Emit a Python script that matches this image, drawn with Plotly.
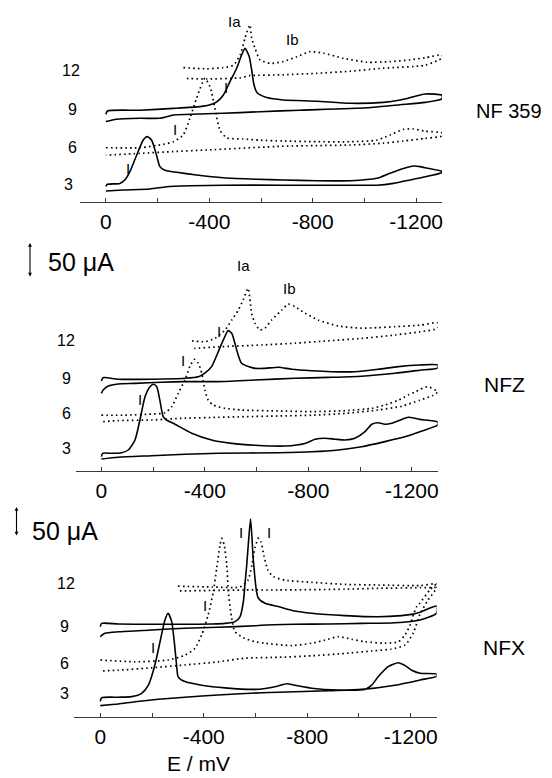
import plotly.graph_objects as go

W, H = 552, 778
FONT = "Liberation Sans, Arial, sans-serif"

# ---------------- data: potential E (mV) and offset current I (uA), loop = forward scan then reverse scan
NF359_PH3_E = [0, -6, -54, -74, -93, -119, -144, -160, -177, -196, -209, -228, -274, -351, -454, -583, -686, -816, -945, -1048, -1099, -1151, -1190, -1215, -1235, -1300,
               -1300, -1235, -1177, -1112, -1048, -945, -686, -454, -325, -235, -170, -67, 0]
NF359_PH3_I = [26, 29.5, 31, 37, 50.5, 78, 103, 109, 103, 78, 59, 53, 49.5, 45, 40.5, 38, 36.7, 35.5, 35.5, 39.5, 48, 56, 60, 59, 57, 51,
               49, 42, 36.7, 31, 28, 28, 28, 28, 27, 25.5, 21.7, 20, 18.3]
NF359_PH6_E = [0, -132, -222, -261, -299, -325, -351, -383, -403, -422, -441, -467, -531, -596, -686, -816, -945, -1048, -1099, -1151, -1190, -1235, -1300,
               -1300, -1235, -1151, -1073, -945, -816, -686, -390, -261, -132, 0]
NF359_PH6_I = [90.5, 90.5, 96, 100.5, 111.7, 139.5, 173, 206, 192, 156, 120, 107, 105, 103, 101.7, 100.5, 100.5, 103, 111.7, 121, 121.7, 118, 115,
               110, 106, 101.7, 98, 95, 94, 93, 86.7, 84, 81, 78]
NF359_PH9_E = [0, -6, -132, -261, -364, -403, -429, -454, -480, -506, -525, -538, -554, -565, -573, -585, -622, -686, -816, -945, -1073, -1138, -1190, -1235, -1300,
               -1300, -1235, -1138, -1009, -751, -596, -519, -390, -261, -235, -209, -132, -41, 0]
NF359_PH9_I = [146, 151.7, 153, 156, 159, 162, 167, 178, 200.5, 223, 245, 256, 243, 217, 195, 182, 174, 170, 168, 164.5, 166, 170, 175.5, 180, 178,
               172, 166, 162, 157, 153, 150.5, 149, 147, 145, 142, 139.5, 139.5, 138, 134]
NF359_PH12_E = [-300, -390, -454, -493, -519, -538, -557, -564, -577, -596, -635, -686, -738, -790, -841, -919, -1009, -1099, -1177, -1235, -1300,
                -1300, -1235, -1073, -945, -816, -686, -557, -519, -390, -300]
NF359_PH12_I = [224, 222, 224, 228, 245, 273, 295, 273, 256, 237, 231, 234, 242, 250.5, 248, 239.5, 233, 234, 237, 240.5, 245,
                240, 228, 223, 218, 214.5, 212, 210.5, 207, 205, 206]

NFZ_PH3_E = [0, -5, -40, -78, -104, -130, -149, -169, -188, -201, -214, -226, -239, -252, -284, -349, -426, -504, -594, -710, -787, -826, -864, -903, -942, -980,
             -1019, -1045, -1070, -1096, -1122, -1161, -1186, -1212, -1231, -1300,
             -1300, -1231, -1173, -1096, -1006, -916, -813, -684, -452, -323, -194, -65, 0]
NFZ_PH3_I = [24, 29.5, 29.5, 30.5, 35, 51.7, 85, 124, 140.5, 144.5, 140.5, 118, 90.5, 85, 78, 63, 51.7, 46, 43, 41.7, 46, 53, 54.5, 53, 51.7, 54.5,
             65.5, 78, 80.5, 78, 79.5, 86, 89.5, 88, 86, 81.7,
             76.7, 65.5, 57, 49, 40.5, 35, 32, 30.5, 29.5, 28, 25.5, 23, 20]
NFZ_PH6_E = [0, -91, -194, -246, -272, -297, -323, -342, -359, -375, -388, -400, -413, -432, -478, -542, -684, -813, -942, -1045, -1096, -1148, -1186, -1212, -1261, -1300,
             -1281, -1231, -1161, -1070, -942, -813, -684, -555, -452, -323, -194, -65, 0]
NFZ_PH6_I = [93, 93, 95, 97, 107, 129.5, 151.7, 174, 186, 179.5, 163, 135, 118, 110, 104.5, 101.7, 100, 99, 100.5, 104.5, 110, 118, 126.7, 131.7, 140.5, 131.7,
             126, 118, 108, 101.7, 96, 93, 91.7, 90.5, 89.5, 88, 85, 84, 82]
NFZ_PH9_E = [0, -7, -65, -194, -323, -375, -400, -426, -452, -471, -490, -504, -516, -529, -542, -568, -594, -632, -684, -736, -813, -890, -980, -1070, -1148, -1231, -1300,
             -1300, -1231, -1135, -1006, -877, -748, -594, -452, -323, -233, -130, -65, -27, -7, 0]
NFZ_PH9_I = [150, 155.5, 153, 153, 154.5, 157, 163, 174, 199, 218, 234, 229.5, 213, 193, 179.5, 174, 171, 171, 173, 169.5, 167, 165.5, 165.5, 169.5, 174, 176.7, 176.7,
             171.7, 168, 163, 158, 156, 154.5, 151.7, 149, 149, 148, 146, 145, 141.7, 135, 129.5]
NFZ_PH12_E = [-350, -400, -439, -478, -504, -529, -548, -567, -581, -594, -613, -632, -658, -697, -722, -748, -787, -838, -916, -1006, -1070, -1135, -1231, -1300,
              -1300, -1231, -1135, -1006, -877, -748, -620, -452, -362, -350]
NFZ_PH12_I = [217, 215.5, 221, 235, 251.7, 268, 285, 304.5, 262.5, 246, 235, 238, 251.7, 268, 278, 274, 263, 251.7, 241.7, 238, 239, 240.5, 243, 246.7,
              238, 232, 226.7, 221, 217, 213, 210, 207, 204.5, 204.5]

NFX_PH3_E = [0, -5, -70, -121, -160, -186, -211, -231, -250, -262, -276, -286, -295, -301, -327, -392, -482, -598, -637, -688, -720, -752, -817, -920, -1023,
             -1049, -1074, -1113, -1152, -1177, -1204, -1236, -1300,
             -1300, -1236, -1139, -1010, -881, -752, -624, -456, -327, -224, -134, -70, 0]
NFX_PH3_I = [26, 32, 33, 34, 39.5, 53, 86.7, 125.5, 161.7, 173, 159, 125.5, 86.7, 67, 59, 53, 48.5, 46, 47.5, 51.7, 55.5, 53, 48, 45, 46,
             53, 67, 84, 90.5, 86, 78, 73, 71.7,
             68, 61.7, 53, 46, 44, 42, 40.5, 36.7, 33, 29.5, 25.5, 21.7, 19]
NFX_PH6_E = [0, -134, -263, -327, -366, -392, -417, -437, -450, -463, -469, -479, -489, -495, -508, -521, -559, -598, -637, -740, -817, -868, -920, -972, -1023,
             -1100, -1152, -1178, -1197, -1210, -1223, -1232, -1274, -1300,
             -1300, -1267, -1236, -1210, -1178, -1126, -1049, -946, -817, -688, -559, -456, -327, -199, -70, 0]
NFX_PH6_I = [95, 92, 95, 103, 114.5, 136.7, 170, 209, 248, 286.7, 298, 286.7, 253, 209, 164.5, 142, 131, 125.5, 123, 119, 123, 128, 134, 129.5, 125.5,
             123, 125.5, 136.7, 153, 170, 184, 188, 211.7, 221.7,
             215, 195, 171.7, 140, 120, 113.3, 110, 106, 102, 99.5, 98, 92, 86.7, 82, 78, 76.7]
NFX_PH9_E = [0, -5, -70, -199, -327, -431, -482, -521, -540, -553, -559, -566, -572, -581, -591, -598, -604, -611, -637, -688, -752, -817, -946, -1074, -1165, -1204, -1236, -1300,
             -1300, -1236, -1139, -1010, -881, -752, -624, -598, -456, -327, -199, -70, -18, 0]
NFX_PH9_I = [150.5, 156, 155, 154.5, 154.5, 155, 156, 159, 167, 192, 220, 253, 286.7, 330, 264.5, 231, 209, 198, 189.5, 184, 176.7, 173, 169, 167, 169, 171, 174.5, 185,
             173, 161.7, 157, 156, 155, 154.5, 153, 152, 149.5, 148, 145, 142, 139.5, 134]
NFX_PH12_E = [-300, -431, -540, -571, -586, -598, -611, -621, -633, -648, -669, -714, -817, -946, -1074, -1236, -1300,
              -1300, -1236, -1074, -946, -688, -559, -300]
NFX_PH12_I = [218, 216.7, 216.7, 228, 253, 281.7, 298, 291.7, 268, 245, 234, 228, 224.5, 221, 220, 219, 221.7,
              216.7, 215.5, 214.5, 213, 211.7, 211.7, 210]

PH_LABELS = ["12", "9", "6", "3"]
PANEL_NAMES = ["NF 359", "NFZ", "NFX"]
TICK_VALS = [0, -200, -400, -600, -800, -1000, -1200]
TICK_TEXT = ["0", "", "-400", "", "-800", "", "-1200"]

panels = [
    [(NF359_PH3_E, NF359_PH3_I, "solid"), (NF359_PH6_E, NF359_PH6_I, "dot"),
     (NF359_PH9_E, NF359_PH9_I, "solid"), (NF359_PH12_E, NF359_PH12_I, "dot")],
    [(NFZ_PH3_E, NFZ_PH3_I, "solid"), (NFZ_PH6_E, NFZ_PH6_I, "dot"),
     (NFZ_PH9_E, NFZ_PH9_I, "solid"), (NFZ_PH12_E, NFZ_PH12_I, "dot")],
    [(NFX_PH3_E, NFX_PH3_I, "solid"), (NFX_PH6_E, NFX_PH6_I, "dot"),
     (NFX_PH9_E, NFX_PH9_I, "solid"), (NFX_PH12_E, NFX_PH12_I, "dot")],
]

# ---------------- layout geometry (pixels)
geo = [
    dict(xl=80, xr=442, el=100, er=-1300, yb=202, yt=15),
    dict(xl=75.5, xr=437.7, el=100, er=-1300, yb=471, yt=280),
    dict(xl=74.4, xr=436.6, el=100, er=-1300, yb=717, yt=505),
]
UA_PER_PX = 5 / 3

fig = go.Figure()
layout = dict(width=W, height=H, margin=dict(l=0, r=0, t=0, b=0),
              paper_bgcolor="white", plot_bgcolor="white", showlegend=False,
              font=dict(family=FONT, color="black"))

for k, (curves, g) in enumerate(zip(panels, geo)):
    sfx = "" if k == 0 else str(k + 1)
    for E, I, style in curves:
        fig.add_trace(go.Scatter(
            x=E, y=I, mode="lines", xaxis="x" + sfx, yaxis="y" + sfx,
            line=dict(color="black", width=1.6 if style == "solid" else 1.7,
                      dash="solid" if style == "solid" else "1.6px,3.2px",
                      shape="spline", smoothing=0.6),
            hoverinfo="skip"))
    layout["xaxis" + sfx] = dict(
        domain=[g["xl"] / W, g["xr"] / W], range=[g["el"], g["er"]], anchor="y" + sfx,
        showline=True, linecolor="#3a3a3a", linewidth=1.2, ticks="inside", ticklen=4,
        tickwidth=1, tickcolor="#3a3a3a", tickvals=TICK_VALS, ticktext=TICK_TEXT,
        tickfont=dict(size=21, family=FONT, color="black"), showgrid=False, zeroline=False,
        ticklabelstandoff=1, fixedrange=True)
    layout["yaxis" + sfx] = dict(
        domain=[1 - g["yb"] / H, 1 - g["yt"] / H], range=[0, (g["yb"] - g["yt"]) * UA_PER_PX],
        anchor="x" + sfx, visible=False, fixedrange=True)


def P(xp, yp):
    return dict(x=xp / W, y=1 - yp / H, xref="paper", yref="paper")


ann = []


def txt(s, xp, yp, size, xanchor="center"):
    a = P(xp, yp)
    a.update(text=s, showarrow=False, xanchor=xanchor, yanchor="middle",
             font=dict(size=size, family=FONT, color="black"))
    ann.append(a)


# pH labels
ph_pos = [
    [(71, 70), (72, 110), (72, 147), (68, 184)],
    [(66, 340), (66, 378), (66, 413), (66, 448)],
    [(66, 583), (64, 626), (64, 663), (64, 693)],
]
for pos in ph_pos:
    for lab, (xp, yp) in zip(PH_LABELS, pos):
        txt(lab, xp, yp, 16)

# panel names
txt(PANEL_NAMES[0], 474, 111, 20, "left")
txt(PANEL_NAMES[1], 527, 385, 21, "right")
txt(PANEL_NAMES[2], 527, 647, 21, "right")

# peak labels
txt("Ia", 234, 22, 15)
txt("Ib", 292, 39, 15)
txt("Ia", 243, 266, 15)
txt("Ib", 289, 288, 15)
for xp, yp in [(226, 87), (175, 129), (128, 169),
               (219, 331), (183, 360), (140, 399),
               (241, 532), (269, 532), (205, 605), (153, 647)]:
    txt("I", xp, yp, 15)

# scale bars
for (xp, y0, y1), (tx, ty) in [((30, 243, 278), (46, 262)), ((16.5, 507, 537), (30, 531))]:
    a = P(xp, y0)
    a.update(text="", showarrow=True, ax=0, ay=y1 - y0, axref="pixel", ayref="pixel",
             arrowside="end+start", arrowhead=2, arrowsize=0.7, arrowwidth=1.1, arrowcolor="black")
    ann.append(a)
    txt("50 μA", tx, ty, 25, "left")

txt("E / mV", 198, 763, 21)

layout["annotations"] = ann
fig.update_layout(**layout)
fig.write_html("out.html", config={"displayModeBar": False, "staticPlot": True},
               post_script="document.body.style.margin='0px';document.body.style.overflow='hidden';")
